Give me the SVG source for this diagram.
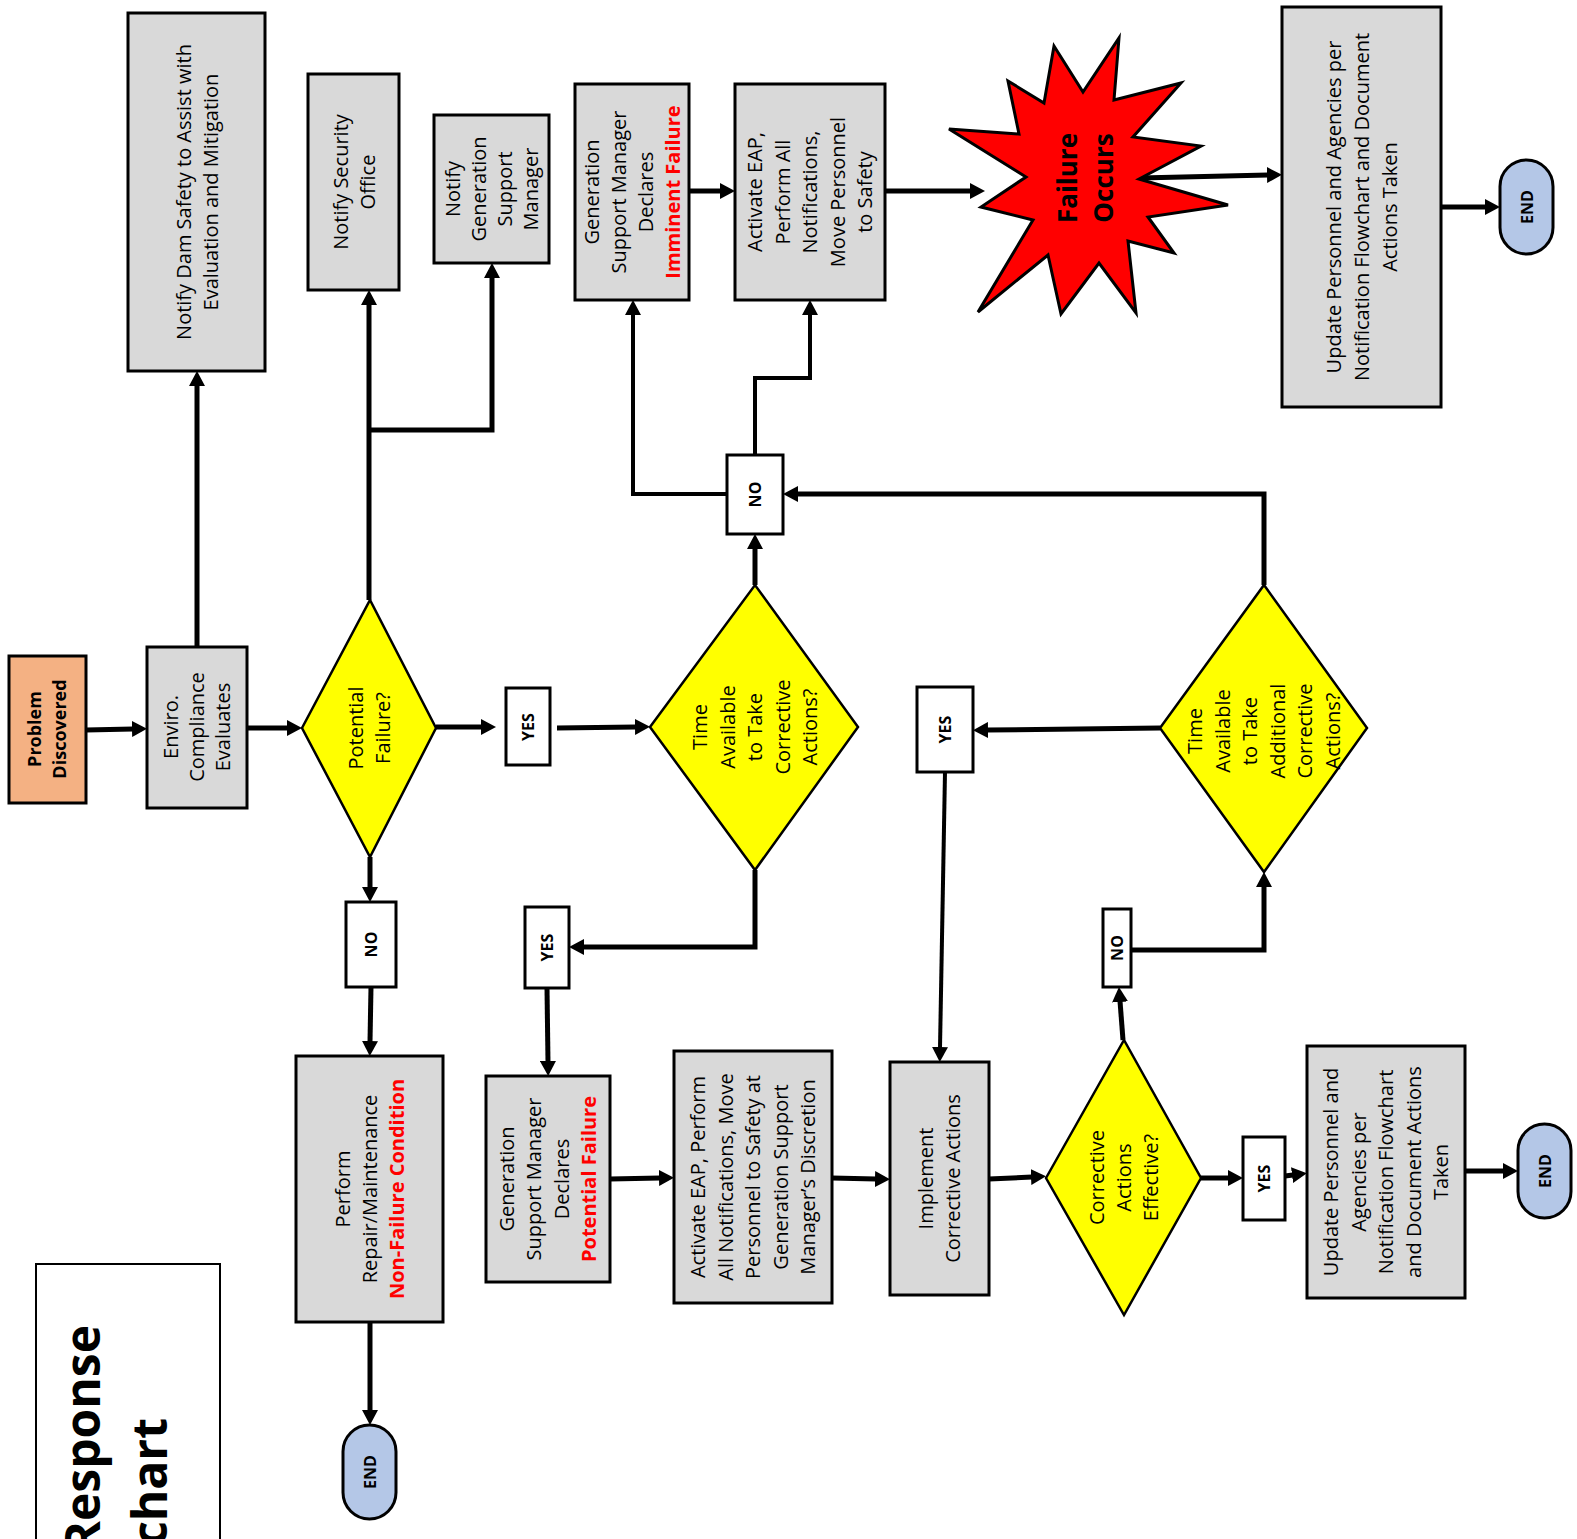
<svg xmlns="http://www.w3.org/2000/svg" width="1577" height="1539" viewBox="0 0 1577 1539">
<defs>
<style>
.box{fill:#D9D9D9;stroke:#000;stroke-width:3}
.pd{fill:#F4B183;stroke:#000;stroke-width:3}
.dia{fill:#FFFF00;stroke:#000;stroke-width:2.5}
.lbl{fill:#FFFFFF;stroke:#000;stroke-width:3}
.end{fill:#B4C7E7;stroke:#000;stroke-width:3}
.star{fill:#FF0000;stroke:#000;stroke-width:3;stroke-linejoin:miter}
.t{font-family:"Open Sans","DejaVu Sans",sans-serif;font-size:20px;text-anchor:middle;fill:#000}
.b{font-weight:bold}
.r{fill:#FF0000;font-weight:bold}
.s{font-size:16px;font-weight:bold}
.c{fill:none;stroke:#000;stroke-width:5;marker-end:url(#ah)}
.c4{stroke-width:4}
</style>
<marker id="ah" viewBox="0 0 15 16" refX="1" refY="8" markerWidth="15" markerHeight="16" markerUnits="userSpaceOnUse" orient="auto">
<path d="M0,0 L15,8 L0,16 z" fill="#000"/>
</marker>
</defs>
<rect width="1577" height="1539" fill="#FFFFFF"/>

<g id="connectors">
<path class="c" d="M86,730 L133,729"/>
<path class="c" d="M247,728 L288,728"/>
<path class="c" d="M197,647 V385"/>
<path class="c" d="M369,600 V304"/>
<path class="c" d="M369,430 H492 V277"/>
<path class="c" d="M436,727 H482"/>
<path class="c" d="M557,728 L636,727"/>
<path class="c" d="M370,857 V888"/>
<path class="c" d="M371,987 L370,1042"/>
<path class="c" d="M370,1322 V1411"/>
<path class="c" d="M755,585 V548"/>
<path class="c c4" d="M727,494 H633 V314"/>
<path class="c c4" d="M755,455 V378 H810 V314"/>
<path class="c" d="M755,870 V947 H583"/>
<path class="c" d="M547,988 L548,1062"/>
<path class="c" d="M610,1179 L660,1178"/>
<path class="c" d="M832,1178 L876,1179"/>
<path class="c" d="M989,1179 L1032,1177"/>
<path class="c" d="M1201,1178 L1229,1178"/>
<path class="c" d="M1285,1176 L1293,1175"/>
<path class="c" d="M1465,1171 H1504"/>
<path class="c" d="M1123,1040 L1120,1001"/>
<path class="c" d="M1131,950 H1264 V886"/>
<path class="c" d="M1160,728 L987,730"/>
<path class="c c4" d="M945,772 L940,1048"/>
<path class="c" d="M1264,585 V494 H797"/>
<path class="c" d="M689,191 H721"/>
<path class="c" d="M885,191 H971"/>
<path class="c" d="M1140,178 L1268,175"/>
<path class="c" d="M1441,207 H1486"/>
</g>

<g id="title">
<rect x="36" y="1264" width="184" height="290" fill="#FFFFFF" stroke="#000" stroke-width="2"/>
<text class="t b" style="font-size:48px;text-anchor:end" transform="translate(100,1325) rotate(-90)">Response</text>
<text class="t b" style="font-size:48px;text-anchor:end" transform="translate(167,1418) rotate(-90)">chart</text>
</g>

<g id="problem">
<rect class="pd" x="9" y="656" width="77" height="147"/>
<text class="t b" style="font-size:18px" transform="rotate(-90 47 729)"><tspan x="47" y="723">Problem</tspan><tspan x="47" y="748">Discovered</tspan></text>
</g>

<g id="enviro">
<rect class="box" x="147" y="647" width="100" height="161"/>
<text class="t" transform="rotate(-90 197 727)"><tspan x="197" y="708">Enviro.</tspan><tspan x="197" y="734">Compliance</tspan><tspan x="197" y="760">Evaluates</tspan></text>
</g>

<g id="damsafety">
<rect class="box" x="128" y="13" width="137" height="358"/>
<text class="t" transform="rotate(-90 197 192)"><tspan x="197" y="185.5">Notify Dam Safety to Assist with</tspan><tspan x="197" y="212.5">Evaluation and Mitigation</tspan></text>
</g>

<g id="security">
<rect class="box" x="308" y="74" width="91" height="216"/>
<text class="t" transform="rotate(-90 354 182)"><tspan x="354" y="175.5">Notify Security</tspan><tspan x="354" y="202.5">Office</tspan></text>
</g>

<g id="notifygsm">
<rect class="box" x="434" y="115" width="115" height="148"/>
<text class="t" transform="rotate(-90 492 189)"><tspan x="492" y="157">Notify</tspan><tspan x="492" y="183">Generation</tspan><tspan x="492" y="209">Support</tspan><tspan x="492" y="235">Manager</tspan></text>
</g>

<g id="imminent">
<rect class="box" x="575" y="84" width="114" height="216"/>
<text class="t" transform="rotate(-90 632 192)"><tspan x="632" y="158.5">Generation</tspan><tspan x="632" y="185.5">Support Manager</tspan><tspan x="632" y="212.5">Declares</tspan><tspan class="r" x="632" y="239.5">Imminent Failure</tspan></text>
</g>

<g id="eaptop">
<rect class="box" x="735" y="84" width="150" height="216"/>
<text class="t" transform="rotate(-90 810 192)"><tspan x="810" y="144">Activate EAP,</tspan><tspan x="810" y="171.5">Perform All</tspan><tspan x="810" y="199">Notifications,</tspan><tspan x="810" y="226.5">Move Personnel</tspan><tspan x="810" y="254">to Safety</tspan></text>
</g>

<g id="failure">
<polygon class="star" points="1119,38 1114,100 1181,83 1133,137 1201,146 1139,179 1228,205 1148,217 1174,253 1128,241 1136,313 1099,263 1061,314 1048,255 978,312 1033,220 981,207 1026,177 949,129 1019,134 1008,81 1044,103 1054,46 1083,92"/>
<text class="t b" style="font-size:26px" transform="rotate(-90 1085 178)"><tspan x="1085" y="169.5">Failure</tspan><tspan x="1085" y="205.5">Occurs</tspan></text>
</g>

<g id="updatetop">
<rect class="box" x="1282" y="7" width="159" height="400"/>
<text class="t" transform="rotate(-90 1362 207)"><tspan x="1362" y="186">Update Personnel and Agencies per</tspan><tspan x="1362" y="214">Notification Flowchart and Document</tspan><tspan x="1362" y="242">Actions Taken</tspan></text>
</g>

<g id="endtop">
<rect class="end" x="1500" y="160" width="53" height="94" rx="26.5"/>
<text class="t s" transform="rotate(-90 1526.5 207)"><tspan x="1526.5" y="213">END</tspan></text>
</g>

<g id="potential">
<polygon class="dia" points="302,728 370,600 436,728 370,857"/>
<text class="t" transform="rotate(-90 369 728)"><tspan x="369" y="721.5">Potential</tspan><tspan x="369" y="748.5">Failure?</tspan></text>
</g>

<g id="yes1">
<rect class="lbl" x="506" y="688" width="44" height="77"/>
<text class="t s" transform="rotate(-90 528 727)"><tspan x="528" y="733">YES</tspan></text>
</g>

<g id="timeavail">
<polygon class="dia" points="650,727 755,585 858,727 755,870"/>
<text class="t" transform="rotate(-90 755 727)"><tspan x="755" y="679">Time</tspan><tspan x="755" y="706.5">Available</tspan><tspan x="755" y="734">to Take</tspan><tspan x="755" y="761.5">Corrective</tspan><tspan x="755" y="789">Actions?</tspan></text>
</g>

<g id="notop">
<rect class="lbl" x="727" y="455" width="56" height="79"/>
<text class="t s" transform="rotate(-90 755 494.5)"><tspan x="755" y="500.5">NO</tspan></text>
</g>

<g id="noleft">
<rect class="lbl" x="346" y="902" width="50" height="85"/>
<text class="t s" transform="rotate(-90 371 944.5)"><tspan x="371" y="950.5">NO</tspan></text>
</g>

<g id="yes2">
<rect class="lbl" x="525" y="907" width="44" height="81"/>
<text class="t s" transform="rotate(-90 547 947.5)"><tspan x="547" y="953.5">YES</tspan></text>
</g>

<g id="perform">
<rect class="box" x="296" y="1056" width="147" height="266"/>
<text class="t" transform="rotate(-90 370 1189)"><tspan x="370" y="1169">Perform</tspan><tspan x="370" y="1196">Repair/Maintenance</tspan><tspan class="r" x="370" y="1223">Non-Failure Condition</tspan></text>
</g>

<g id="endbl">
<rect class="end" x="343" y="1425" width="53" height="94" rx="26.5"/>
<text class="t s" transform="rotate(-90 369.5 1472)"><tspan x="369.5" y="1478">END</tspan></text>
</g>

<g id="potentialfail">
<rect class="box" x="486" y="1076" width="124" height="206"/>
<text class="t" transform="rotate(-90 548 1179)"><tspan x="548" y="1144.75">Generation</tspan><tspan x="548" y="1172.25">Support Manager</tspan><tspan x="548" y="1199.75">Declares</tspan><tspan class="r" x="548" y="1227.25">Potential Failure</tspan></text>
</g>

<g id="eapbottom">
<rect class="box" x="674" y="1051" width="158" height="252"/>
<text class="t" transform="rotate(-90 753 1177)"><tspan x="753" y="1129">Activate EAP, Perform</tspan><tspan x="753" y="1156.5">All Notifications, Move</tspan><tspan x="753" y="1184">Personnel to Safety at</tspan><tspan x="753" y="1211.5">Generation Support</tspan><tspan x="753" y="1239">Manager’s Discretion</tspan></text>
</g>

<g id="implement">
<rect class="box" x="890" y="1062" width="99" height="233"/>
<text class="t" transform="rotate(-90 939.5 1178.5)"><tspan x="939.5" y="1172">Implement</tspan><tspan x="939.5" y="1199">Corrective Actions</tspan></text>
</g>

<g id="effective">
<polygon class="dia" points="1046,1178 1124,1040 1201,1178 1124,1315"/>
<text class="t" transform="rotate(-90 1124 1177.5)"><tspan x="1124" y="1157.5">Corrective</tspan><tspan x="1124" y="1184.5">Actions</tspan><tspan x="1124" y="1211.5">Effective?</tspan></text>
</g>

<g id="yes3">
<rect class="lbl" x="1243" y="1137" width="42" height="83"/>
<text class="t s" transform="rotate(-90 1264 1178.5)"><tspan x="1264" y="1184.5">YES</tspan></text>
</g>

<g id="updatebottom">
<rect class="box" x="1307" y="1046" width="158" height="252"/>
<text class="t" transform="rotate(-90 1386 1172)"><tspan x="1386" y="1124">Update Personnel and</tspan><tspan x="1386" y="1151.5">Agencies per</tspan><tspan x="1386" y="1179">Notification Flowchart</tspan><tspan x="1386" y="1206.5">and Document Actions</tspan><tspan x="1386" y="1234">Taken</tspan></text>
</g>

<g id="endbr">
<rect class="end" x="1518" y="1124" width="53" height="94" rx="26.5"/>
<text class="t s" transform="rotate(-90 1544.5 1171)"><tspan x="1544.5" y="1177">END</tspan></text>
</g>

<g id="noright">
<rect class="lbl" x="1103" y="909" width="28" height="78"/>
<text class="t s" transform="rotate(-90 1117 948)"><tspan x="1117" y="954">NO</tspan></text>
</g>

<g id="timeadditional">
<polygon class="dia" points="1160,728 1264,585 1367,728 1264,872"/>
<text class="t" transform="rotate(-90 1264 731)"><tspan x="1264" y="669">Time</tspan><tspan x="1264" y="696.6">Available</tspan><tspan x="1264" y="724.2">to Take</tspan><tspan x="1264" y="751.8">Additional</tspan><tspan x="1264" y="779.4">Corrective</tspan><tspan x="1264" y="807">Actions?</tspan></text>
</g>

<g id="yes4">
<rect class="lbl" x="917" y="687" width="56" height="85"/>
<text class="t s" transform="rotate(-90 945 729.5)"><tspan x="945" y="735.5">YES</tspan></text>
</g>
</svg>
